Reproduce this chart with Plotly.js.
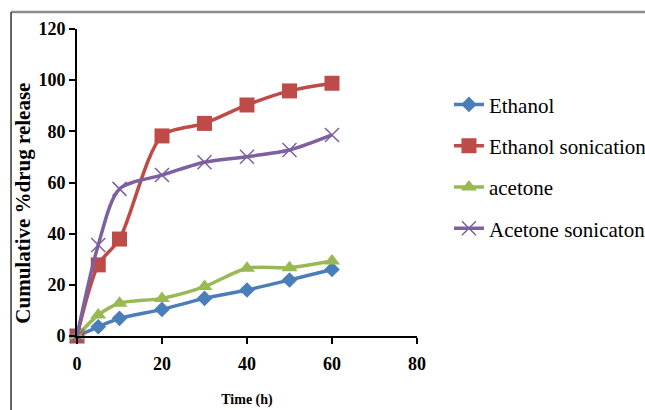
<!DOCTYPE html>
<html>
<head>
<meta charset="utf-8">
<script src="https://cdn.plot.ly/plotly-3.0.1.min.js"></script>
<style>html,body{margin:0;padding:0;background:#fff;overflow:hidden;}#wrap{width:645px;height:410px;overflow:hidden;}#chart{width:670px;height:410px;}</style>
</head>
<body>
<div id="wrap"><div id="chart"></div></div>
<script>
var timeH = [0, 5, 10, 20, 30, 40, 50, 60];
var ethanol = [0, 3.6, 6.9, 10.4, 14.7, 18.0, 21.9, 26.0];
var ethanolSonication = [0, 27.8, 37.9, 78.2, 83.1, 90.3, 95.8, 98.8];
var acetone = [0, 8.2, 12.8, 14.7, 19.3, 26.5, 26.7, 29.3];
var acetoneSonication = [0, 35.6, 57.5, 62.9, 67.9, 70.1, 72.7, 78.6];
var seriesNames = ["Ethanol", "Ethanol sonication", "acetone", "Acetone sonicaton"];
var xTicks = [0, 20, 40, 60, 80];
var yTicks = [0, 20, 40, 60, 80, 100, 120];

var serif = "'Liberation Serif', 'Times New Roman', serif";
var colors = ["#4A7EBB", "#BE4B48", "#98B954", "#7D60A0"];
var symbols = ["diamond", "square", "triangle-up", "x-thin-open"];
var sizes = [12, 15, 14, 14];
var data = [ethanol, ethanolSonication, acetone, acetoneSonication];

var traces = data.map(function (ys, i) {
  return {
    x: timeH, y: ys, name: seriesNames[i], type: "scatter", mode: "lines+markers",
    legendgroup: "g" + i,
    cliponaxis: false,
    line: {color: colors[i], width: 3.5, shape: "spline", smoothing: 0.8},
    marker: {symbol: symbols[i], size: sizes[i], color: colors[i],
      line: {color: colors[i], width: i === 3 ? 1.5 : 0}}
  };
});

var layout = {
  width: 670, height: 410,
  margin: {l: 77, r: 253, t: 29, b: 74},
  paper_bgcolor: "#fff", plot_bgcolor: "#fff",
  font: {family: serif, color: "#000"},
  showlegend: true,
  legend: {x: 1.094, y: 0.82, xanchor: "left", yanchor: "top", tracegroupgap: 11,
    font: {size: 21, family: serif, color: "#000"}, bgcolor: "rgba(0,0,0,0)"},
  xaxis: {range: [0, 80], tickvals: xTicks, ticktext: xTicks.map(String), showgrid: false, zeroline: false,
    showline: true, linecolor: "#000", linewidth: 2, ticks: "outside", ticklen: 6, tickwidth: 2, tickcolor: "#000",
    ticklabelstandoff: 4,
    tickfont: {size: 18, family: serif, weight: "bold"},
    title: {text: "<b>Time (h)</b>", font: {size: 14, family: serif}, standoff: 22}},
  yaxis: {range: [0, 120], tickvals: yTicks, ticktext: yTicks.map(String), showgrid: false, zeroline: false,
    showline: true, linecolor: "#000", linewidth: 2, ticks: "outside", ticklen: 6, tickwidth: 2, tickcolor: "#000",
    tickfont: {size: 18, family: serif, weight: "bold"}},
  annotations: [
    {text: "<b>Cumulative %drug release</b>", xref: "paper", yref: "paper", x: -0.16, y: 0.433,
      xanchor: "center", yanchor: "middle", textangle: -90, showarrow: false,
      font: {size: 21, family: serif, color: "#000"}}
  ],
  shapes: [
    {type: "line", xref: "paper", yref: "paper", x0: -0.194, x1: 1.8, y0: 1.055, y1: 1.055, line: {color: "#8c8c8c", width: 2.5}},
    {type: "line", xref: "paper", yref: "paper", x0: -0.194, x1: -0.194, y0: 1.055, y1: -0.4, line: {color: "#333", width: 1.5}}
  ]
};

Plotly.newPlot("chart", traces, layout, {displayModeBar: false, staticPlot: true});
</script>
</body>
</html>
